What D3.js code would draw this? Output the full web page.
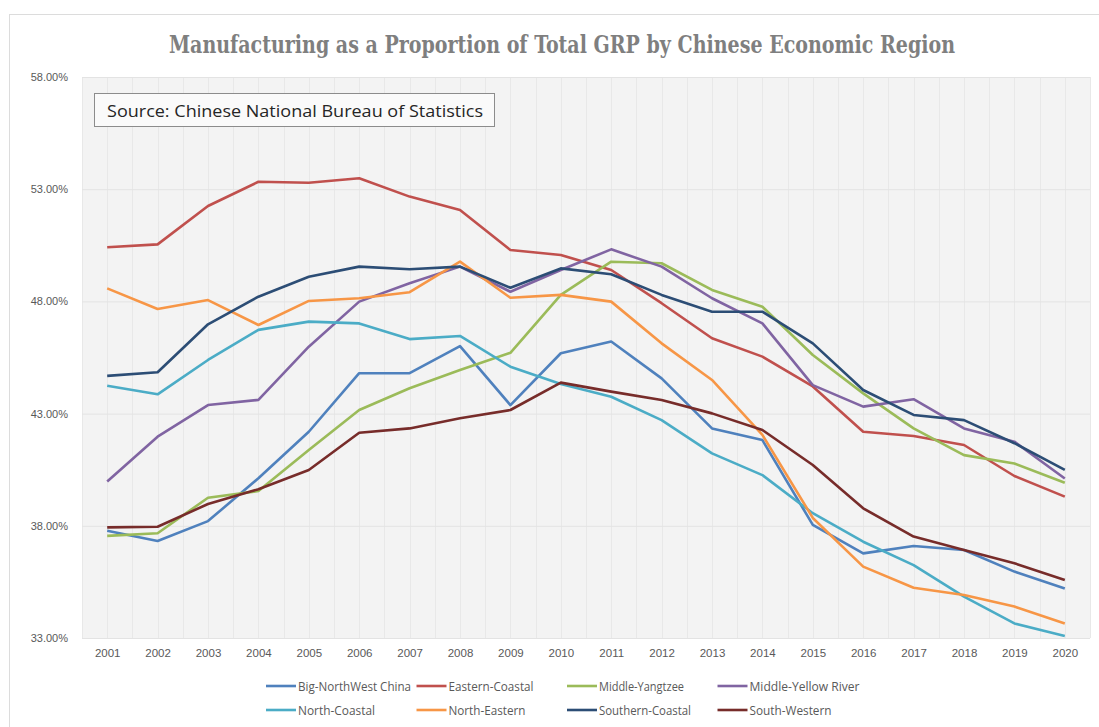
<!DOCTYPE html>
<html>
<head>
<meta charset="utf-8">
<script src="https://cdn.jsdelivr.net/npm/d3@7"></script>
<style>
  html, body { margin: 0; padding: 0; background: #fff; }
  svg { display: block; }
</style>
</head>
<body>
<div id="chart"></div>
<script>
// values (percent of GRP)
const years = ['2001', '2002', '2003', '2004', '2005', '2006', '2007', '2008', '2009', '2010',
    '2011', '2012', '2013', '2014', '2015', '2016', '2017', '2018', '2019', '2020'];

const regionNames = ['Big-NorthWest China', 'Eastern-Coastal', 'Middle-Yangtzee', 'Middle-Yellow River',
    'North-Coastal', 'North-Eastern', 'Southern-Coastal', 'South-Western'];

const bigNorthWest = [37.78, 37.32, 38.21, 40.12, 42.19, 44.80, 44.80, 46.01, 43.38, 45.69,
    46.21, 44.57, 42.34, 41.82, 38.04, 36.77, 37.10, 36.92, 35.96, 35.21];
const easternCoastal = [50.41, 50.54, 52.25, 53.33, 53.29, 53.49, 52.67, 52.07, 50.29, 50.07,
    49.40, 47.92, 46.36, 45.54, 44.21, 42.19, 42.00, 41.60, 40.22, 39.30];
const middleYangtzee = [37.55, 37.67, 39.25, 39.55, 41.38, 43.16, 44.13, 44.94, 45.71, 48.29,
    49.77, 49.70, 48.51, 47.76, 45.61, 43.90, 42.34, 41.15, 40.78, 39.92];
const middleYellowRiver = [39.97, 41.97, 43.38, 43.61, 45.98, 47.99, 48.81, 49.55, 48.43, 49.40,
    50.32, 49.55, 48.14, 47.02, 44.27, 43.31, 43.64, 42.34, 41.75, 40.11];
const northCoastal = [44.24, 43.86, 45.39, 46.73, 47.10, 47.02, 46.32, 46.46, 45.09, 44.32,
    43.75, 42.71, 41.23, 40.26, 38.56, 37.29, 36.25, 34.84, 33.65, 33.09];
const northEastern = [48.58, 47.66, 48.06, 46.95, 48.02, 48.14, 48.41, 49.77, 48.16, 48.29,
    47.99, 46.13, 44.50, 42.05, 38.35, 36.18, 35.24, 34.92, 34.40, 33.65];
const southernCoastal = [44.68, 44.84, 46.98, 48.21, 49.10, 49.55, 49.43, 49.55, 48.61, 49.47,
    49.21, 48.29, 47.54, 47.54, 46.13, 44.05, 42.94, 42.71, 41.68, 40.49];
const southWestern = [37.93, 37.96, 38.97, 39.63, 40.49, 42.15, 42.34, 42.79, 43.16, 44.38,
    43.98, 43.61, 43.01, 42.27, 40.71, 38.78, 37.52, 36.92, 36.33, 35.58];

const yTicks = [33, 38, 43, 48, 53, 58];

const seriesValues = [bigNorthWest, easternCoastal, middleYangtzee, middleYellowRiver,
    northCoastal, northEastern, southernCoastal, southWestern];

const colors = ['#4f81bd', '#c0504d', '#9bbb59', '#8064a2', '#4bacc6', '#f79646', '#2c4d75', '#772c2a'];

const W = 1099, H = 727;
const plot = { left: 82, right: 1090, top: 77, bottom: 638 };

const svg = d3.select('#chart').append('svg')
    .attr('width', W)
    .attr('height', H)
    .style('font-family', '"Open Sans", "Noto Sans", sans-serif');

// outer chart frame
svg.append('rect')
    .attr('x', 9.5).attr('y', 14.5)
    .attr('width', W + 20).attr('height', H + 20)
    .attr('fill', '#fff')
    .attr('stroke', '#dcdcdc');

svg.append('text')
    .attr('x', 562).attr('y', 53)
    .attr('text-anchor', 'middle')
    .attr('textLength', 786)
    .attr('lengthAdjust', 'spacingAndGlyphs')
    .style('font-family', '"DejaVu Serif Condensed", "Liberation Serif", serif')
    .style('font-weight', 'bold')
    .style('font-size', '24px')
    .attr('fill', '#7f7f7f')
    .text('Manufacturing as a Proportion of Total GRP by Chinese Economic Region');

const x = d3.scalePoint()
    .domain(years)
    .range([plot.left, plot.right])
    .padding(0.5);

const y = d3.scaleLinear()
    .domain([33, 58])
    .range([plot.bottom, plot.top]);

svg.append('rect')
    .attr('x', plot.left).attr('y', plot.top)
    .attr('width', plot.right - plot.left)
    .attr('height', plot.bottom - plot.top)
    .attr('fill', '#f3f3f3');

// vertical grid: at every year and every half step between them
const half = x.step() / 2;
const vLines = [];
years.forEach(yr => {
    vLines.push(x(yr) - half);
    vLines.push(x(yr));
});
vLines.push(x(years[years.length - 1]) + half);

svg.append('g')
    .selectAll('line')
    .data(vLines)
    .enter()
    .append('line')
    .attr('x1', d => Math.round(d) + 0.5)
    .attr('x2', d => Math.round(d) + 0.5)
    .attr('y1', plot.top)
    .attr('y2', plot.bottom)
    .attr('stroke', '#e8e8e8');

const yAxis = d3.axisLeft(y)
    .tickValues(yTicks)
    .tickSize(-(plot.right - plot.left))
    .tickPadding(14)
    .tickFormat(d => d3.format('.2f')(d) + '%');

const gy = svg.append('g')
    .attr('transform', `translate(${plot.left},0)`)
    .call(yAxis);
gy.select('.domain').remove();
gy.selectAll('.tick line').attr('stroke', '#e3e3e3');
gy.selectAll('.tick text')
    .attr('fill', '#595959')
    .style('font-size', '11px');

const xAxis = d3.axisBottom(x).tickSize(0).tickPadding(11);
const gx = svg.append('g')
    .attr('transform', `translate(0,${plot.bottom})`)
    .call(xAxis);
gx.select('.domain').remove();
gx.selectAll('.tick text')
    .attr('fill', '#595959')
    .style('font-size', '11.5px');

// source note
svg.append('rect')
    .attr('x', 94.5).attr('y', 93.5)
    .attr('width', 400).attr('height', 33)
    .attr('fill', '#fafafa')
    .attr('stroke', '#8c8c8c');
svg.append('text')
    .attr('x', 107).attr('y', 117)
    .attr('textLength', 376)
    .attr('lengthAdjust', 'spacingAndGlyphs')
    .style('font-size', '17px')
    .attr('fill', '#262626')
    .text('Source: Chinese National Bureau of Statistics');

const line = d3.line()
    .x((d, i) => x(years[i]))
    .y(d => y(d));

svg.append('g')
    .selectAll('path')
    .data(seriesValues)
    .enter()
    .append('path')
    .attr('d', line)
    .attr('fill', 'none')
    .attr('stroke', (d, i) => colors[i])
    .attr('stroke-width', 2.6)
    .attr('stroke-linejoin', 'round');

// legend, two rows of four
const legendCols = [266, 416.5, 567, 717.5];
const legendRows = [686, 710];
const legendTextLen = [113, 85, 85, 110, 77, 77, 92, 82];

const legend = svg.append('g')
    .selectAll('g')
    .data(regionNames)
    .enter()
    .append('g')
    .attr('transform', (d, i) => `translate(${legendCols[i % 4]},${legendRows[Math.floor(i / 4)]})`);

legend.append('line')
    .attr('x1', 0).attr('x2', 30)
    .attr('y1', 0).attr('y2', 0)
    .attr('stroke', (d, i) => colors[i])
    .attr('stroke-width', 2.6);

legend.append('text')
    .attr('x', 32)
    .attr('y', 4.5)
    .attr('textLength', (d, i) => legendTextLen[i])
    .attr('lengthAdjust', 'spacingAndGlyphs')
    .style('font-size', '12.5px')
    .attr('fill', '#595959')
    .text(d => d);
</script>
</body>
</html>
